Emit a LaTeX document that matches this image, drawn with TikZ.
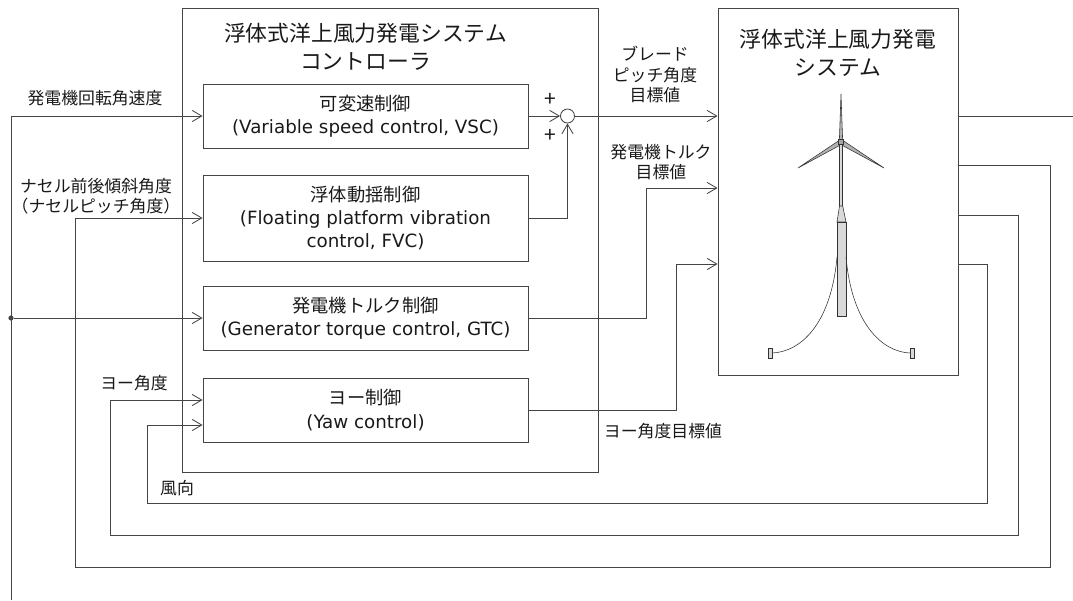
\documentclass[tikz,border=0pt]{standalone}
\usepackage{fontspec}
\setmainfont{DejaVu Sans}
\newfontfamily\jp{Noto Sans CJK JP}
\usetikzlibrary{arrows.meta,positioning}

\definecolor{linegray}{HTML}{454545}
\definecolor{sparfill}{HTML}{D9D9D9}

\tikzset{
  frame/.style={draw=linegray, line width=0.6pt},
  ctrlblock/.style={frame, minimum width=8.125cm, minimum height=1.6cm,
    align=center, font=\fontsize{13}{16.7}\selectfont},
  boxtitle/.style={align=center, font=\fontsize{15.5}{20}\selectfont\jp},
  sig/.style={align=center, font=\fontsize{12}{14.5}\selectfont\jp},
  sign/.style={inner sep=0pt, font=\fontsize{15}{15}\selectfont\jp},
  sum/.style={circle, draw=linegray, line width=0.6pt, minimum size=3.5mm, inner sep=0pt},
  dot/.style={circle, fill=linegray, minimum size=1.3mm, inner sep=0pt},
}

\begin{document}
\begin{tikzpicture}[x=0.25mm, y=-0.25mm, node distance=2.5cm, on grid,
    >={Straight Barb[length=2.4mm,width=2.8mm]}, line width=0.6pt, color=linegray,
    every node/.append style={text=black!90}]
  \useasboundingbox (0,0) rectangle (1073,600);

  % controller
  \node[frame, minimum width=10.4cm, minimum height=11.5875cm] (ctrl) at (390,240.25) {};
  \node[ctrlblock] (vsc) at (365.5,116) {{\jp 可変速制御}\\(Variable speed control, VSC)};
  \node[ctrlblock, minimum height=2.15cm] (fvc) [below=2.55cm of vsc]
    {{\jp 浮体動揺制御}\\(Floating platform vibration\\control, FVC)};
  \node[ctrlblock] (gtc) [below=2.5cm of fvc] {{\jp 発電機トルク制御}\\(Generator torque control, GTC)};
  \node[ctrlblock] (yaw) [below=2.3cm of gtc] {{\jp ヨー制御}\\(Yaw control)};
  \node[boxtitle] (ctrl_t) [above=1.72cm of vsc] {浮体式洋上風力発電システム\\コントローラ};

  \node[sum] (sum) [right=5.05cm of vsc] {};
  \node[sign] (plus1) at (550,100) {+};
  \node[sign] (plus2) at (550,136) {+};

  % plant
  \node[frame, minimum width=6cm, minimum height=9.1625cm] (plant) at (838,191.75) {};
  \node[boxtitle] (plant_t) at (838,52.5) {浮体式洋上風力発電\\システム};

  % turbine
  \begin{scope}[line width=0.4pt, draw=gray!40!black]
    \draw[fill=gray!60] (839.3,142) -- (841,94) -- (842.7,142) -- cycle;
    \draw[fill=gray!60] (842.2,144) -- (798,168) -- (839.8,140) -- cycle;
    \draw[fill=gray!60] (839.8,144) -- (884,168) -- (842.2,140) -- cycle;
    \draw[fill=sparfill] (839.7,144) rectangle (842.4,206);
    \draw[fill=gray!70] (838.5,139.5) rectangle (843.5,144.5);
    \draw[fill=sparfill] (839.5,206) -- (842.7,206) -- (846,222) -- (837,222) -- cycle;
    \draw[fill=sparfill] (837,222) rectangle (846,316);
    \draw (837,257) .. controls (831,325) and (800,352) .. (772,353);
    \draw (846,257) .. controls (852,325) and (883,352) .. (910,353);
    \draw[fill=sparfill] (768,348) rectangle (772,358);
    \draw[fill=sparfill] (910,348) rectangle (914,358);
  \end{scope}

  % controller signals
  \draw[->] (vsc.east) -- (sum.west);
  \draw[->] (fvc.east) -| (sum.south);
  \draw[->] (sum.east) -- (sum -| plant.west);
  \coordinate (tq) at (646,188);
  \draw[->] (gtc.east) -| (tq) -- (tq -| plant.west);
  \coordinate (yw) at (676,264);
  \draw[->] (yaw.east) -| (yw) -- (yw -| plant.west);

  % plant outputs and feedback
  \coordinate (gen_out) at (1073,116);
  \draw (plant.east |- gen_out) -- (gen_out);
  \coordinate (fb_p) at (1050,165);
  \draw[->] (fb_p -| plant.east) -- (fb_p) |- (75,567) |- (fvc.west);
  \coordinate (fb_y) at (1018,215);
  \draw[->] (fb_y -| plant.east) -- (fb_y) |- (110,535) |- ([yshift=2.5mm]yaw.west);
  \coordinate (fb_w) at (987,264);
  \draw[->] (fb_w -| plant.east) -- (fb_w) |- (147,503) |- ([yshift=-3.75mm]yaw.west);

  % generator speed
  \coordinate (ws) at (11,600);
  \draw[->] (ws) |- (vsc.west);
  \node[dot] (br) at (ws |- gtc.west) {};
  \draw[->] (br) -- (gtc.west);

  % labels
  \node[sig] (l_speed) at (95,98) {発電機回転角速度};
  \node[sig] (l_pitch) at (96,196) {ナセル前後傾斜角度\\（ナセルピッチ角度）};
  \node[sig] (l_yawang) at (134,383) {ヨー角度};
  \node[sig] (l_wind) at (177,488) {風向};
  \node[sig] (l_blade) at (655,74.5) {ブレード\\ピッチ角度\\目標値};
  \node[sig] (l_torque) at (661,162) {発電機トルク\\目標値};
  \node[sig] (l_yawref) at (663,431) {ヨー角度目標値};
\end{tikzpicture}
\end{document}
